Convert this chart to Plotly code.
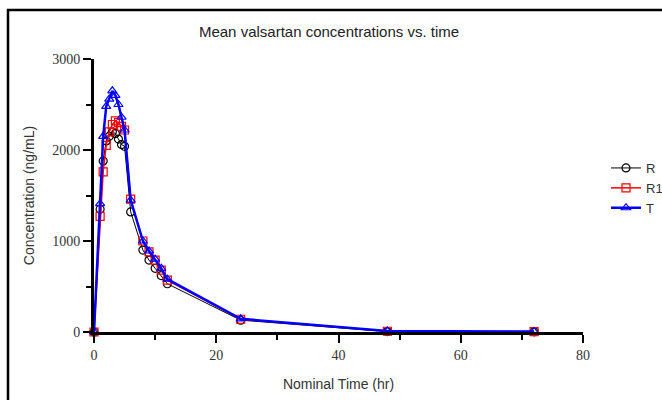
import plotly.graph_objects as go

time_hr = [0, 1, 1.5, 2, 2.5, 3, 3.5, 4, 4.5, 5, 6, 8, 9, 10, 11, 12, 24, 48, 72]
conc_R = [0, 1350, 1880, 2100, 2150, 2200, 2180, 2120, 2060, 2040, 1320, 900, 790, 700, 620, 530, 130, 5, 2]
conc_R1 = [0, 1270, 1760, 2050, 2200, 2280, 2320, 2300, 2260, 2220, 1460, 1000, 880, 790, 680, 570, 140, 8, 5]
conc_T = [0, 1410, 2150, 2480, 2560, 2650, 2600, 2500, 2360, 2220, 1450, 1000, 890, 800, 700, 580, 145, 10, 5]

x_ticks = [0, 20, 40, 60, 80]
y_ticks = [0, 1000, 2000, 3000]

fig = go.Figure()
series = [
    ("R", conc_R, "black", "circle-open", 1),
    ("R1", conc_R1, "red", "square-open", 1.5),
    ("T", conc_T, "blue", "triangle-up-open", 2.5),
]
for name, vals, col, sym, lw in series:
    fig.add_trace(go.Scatter(
        x=time_hr, y=vals, name=name, mode="lines+markers",
        line=dict(color=col, width=lw),
        marker=dict(symbol=sym, size=8, color=col, line=dict(width=1.2, color=col)),
        cliponaxis=False,
    ))

# figure is wider than the 662 px window; the page crops it (as the reference is cropped)
W, H = 740, 400
L, R, T, B = 94, 0, 59, 68
plot_right = 583
pw, ph = W - L - R, H - T - B

def px(xp):
    return (xp - L) / pw

def py(yp):
    return 1 - (yp - T) / ph

fig.add_shape(type="rect", xref="paper", yref="paper",
              x0=px(8), x1=px(700), y0=py(410), y1=py(10),
              line=dict(color="black", width=2.5), layer="above")

tickfont = dict(family="Liberation Serif", size=14, color="#333333")
titlefont = dict(family="Liberation Sans", size=14, color="#333333")
fig.update_layout(
    width=W, height=H, autosize=False,
    margin=dict(l=L, r=R, t=T, b=B, autoexpand=False),
    paper_bgcolor="white", plot_bgcolor="white",
    title=dict(text="Mean valsartan concentrations vs. time", x=329 / W, xanchor="center",
               y=1 - 32 / H, yanchor="middle",
               font=dict(family="Liberation Sans", size=15, color="#222222")),
    legend=dict(x=px(606), y=py(153), xanchor="left", yanchor="top",
                font=dict(family="Liberation Sans", size=13, color="#333333"),
                bgcolor="rgba(0,0,0,0)", itemwidth=30, tracegroupgap=0),
    xaxis=dict(domain=[0, px(plot_right)], range=[0, 80], tickvals=x_ticks,
               showgrid=False, zeroline=False, automargin=False,
               showline=True, linecolor="black", linewidth=3,
               ticks="outside", ticklen=8, tickwidth=1.5, tickcolor="black",
               minor=dict(dtick=10, ticks="outside", ticklen=5, tickwidth=1.5, tickcolor="black"),
               tickfont=tickfont,
               title=dict(text="Nominal Time (hr)", standoff=18, font=titlefont)),
    yaxis=dict(range=[0, 3000], tickvals=y_ticks, showgrid=False, zeroline=False,
               automargin=False,
               showline=True, linecolor="black", linewidth=3,
               ticks="outside", ticklen=8, tickwidth=1.5, tickcolor="black",
               minor=dict(dtick=500, ticks="outside", ticklen=5, tickwidth=1.5, tickcolor="black"),
               tickfont=tickfont,
               title=dict(text="Concentration (ng/mL)", standoff=15, font=titlefont)),
)

fig.write_html("out.html", config={"responsive": False, "displayModeBar": False},
               post_script="document.body.style.margin='0';document.body.style.overflow='hidden';")
